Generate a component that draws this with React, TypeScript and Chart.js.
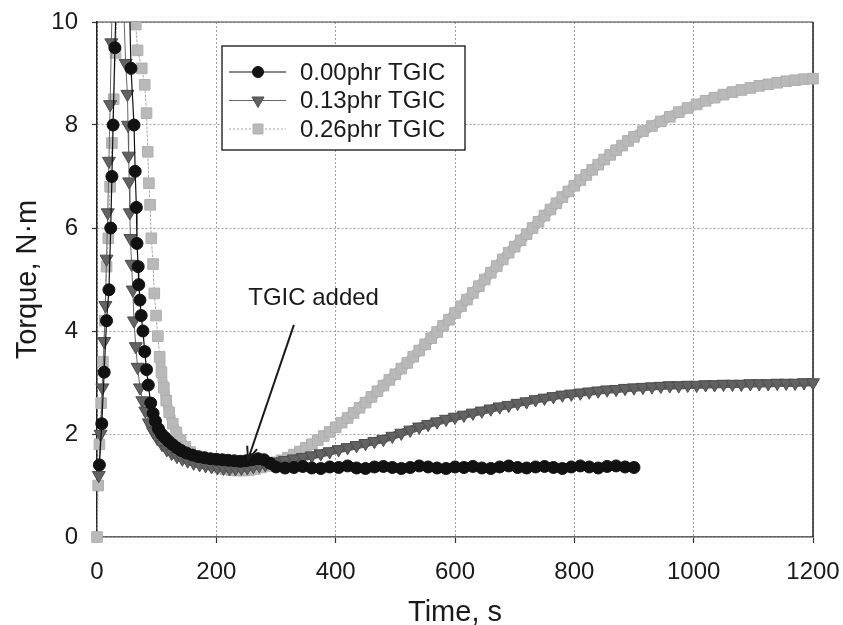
import React, { useEffect, useRef } from 'react';
import { Chart, registerables } from 'chart.js';

Chart.register(...registerables);

const FONT = '"Liberation Sans", Arial, Helvetica, sans-serif';

const seriesNames = ['0.00phr TGIC', '0.13phr TGIC', '0.26phr TGIC'];
const xTitle = 'Time, s';
const yTitle = 'Torque, N·m';
const annotationText = 'TGIC added';
const annotationTextAt = [363, 4.64];
const annotationArrowFrom = [330, 4.12];
const annotationArrowTo = [253, 1.5];

// 0.00phr TGIC
const timeA = [
  4, 8, 12, 16, 20, 23, 25, 27, 30, 34, 42, 50, 57, 62, 64, 66, 67, 69, 70, 72, 74, 77, 80, 83, 86, 90, 94, 98,
  103, 108, 114, 120, 127, 134, 141, 150, 160, 170, 180, 190, 200, 210, 220, 230, 240, 250, 260, 270, 280, 290,
  300, 315, 330, 345, 360, 375, 390, 405, 420, 435, 450, 465, 480, 495, 510, 525, 540, 555, 570, 585, 600,
  615, 630, 645, 660, 675, 690, 705, 720, 735, 750, 765, 780, 795, 810, 825, 840, 855, 870, 885, 900,
];
const torqueA = [
  1.4, 2.2, 3.2, 4.2, 4.8, 6.0, 7.0, 8.0, 9.5, 11.2, 13, 12.5, 9.1, 8.0, 7.1, 6.4, 5.7, 5.25, 4.9, 4.6, 4.3, 4.0,
  3.6, 3.25, 2.95, 2.6, 2.4, 2.25, 2.1, 2.0, 1.93, 1.86, 1.79, 1.73, 1.68, 1.63, 1.59, 1.56, 1.54, 1.52, 1.51,
  1.5, 1.49, 1.48, 1.47, 1.48, 1.5, 1.52, 1.5, 1.43,
  1.36, 1.34, 1.35, 1.37, 1.34, 1.33, 1.36, 1.35, 1.38, 1.34, 1.33, 1.36, 1.37, 1.35, 1.33, 1.35, 1.38, 1.36,
  1.34, 1.33, 1.36, 1.35, 1.37, 1.34, 1.33, 1.36, 1.38, 1.35, 1.34, 1.36, 1.37, 1.35, 1.33, 1.36, 1.38, 1.36,
  1.34, 1.37, 1.38, 1.36, 1.35,
];

// 0.13phr TGIC
const timeB = [
  3, 6, 9, 12, 14, 16, 18, 20, 22, 24, 27, 32, 40, 45, 48, 51, 52, 53, 54, 55, 56, 58, 60, 62, 65, 68, 72, 76, 81,
  87, 94, 101, 109, 117, 125, 134, 143, 152, 162, 172, 182, 192, 202, 212, 222, 232, 242, 252, 262, 272, 282, 292,
  300, 315, 330, 345, 360, 375, 390, 405, 420, 435, 450, 465, 480, 495, 510, 525, 540, 555, 570, 585, 600, 615,
  630, 645, 660, 675, 690, 705, 720, 735, 750, 765, 780, 795, 810, 825, 840, 855, 870, 885, 900, 915, 930, 945,
  960, 975, 990, 1005, 1020, 1035, 1050, 1065, 1080, 1095, 1110, 1125, 1140, 1155, 1170, 1185, 1200,
];
const torqueB = [
  1.2, 2.0, 2.9, 3.8, 4.5, 5.4, 6.3, 7.3, 8.4, 9.6, 11, 12.5, 12, 10.2, 9.2, 8.6, 8.0, 7.4, 6.9, 6.3, 5.8, 5.3,
  4.8, 4.2, 3.7, 3.3, 2.9, 2.65, 2.45, 2.22, 2.05, 1.92, 1.8, 1.7, 1.63, 1.57, 1.52, 1.48, 1.44, 1.41, 1.39,
  1.37, 1.35, 1.34, 1.33, 1.33, 1.34, 1.35, 1.37, 1.39, 1.41, 1.44,
  1.46, 1.49, 1.52, 1.55, 1.58, 1.62, 1.66, 1.7, 1.74, 1.78, 1.82, 1.86, 1.9, 1.96, 2.02, 2.08, 2.14, 2.19,
  2.24, 2.29, 2.33, 2.37, 2.41, 2.45, 2.49, 2.53, 2.56, 2.6, 2.63, 2.67, 2.7, 2.73, 2.76, 2.78, 2.8, 2.82, 2.84,
  2.86, 2.87, 2.89, 2.9, 2.91, 2.92, 2.93, 2.94, 2.94, 2.95, 2.95, 2.96, 2.96, 2.97, 2.97, 2.97, 2.98, 2.98,
  2.98, 2.99, 2.99, 2.99, 3.0, 3.0,
];

// 0.26phr TGIC
const timeC = [
  0, 2, 4, 7, 10, 13, 16, 19, 22, 25, 28, 31, 35, 42, 55, 62, 65, 68, 75, 80, 83, 85, 87, 89, 91, 94, 96, 99, 102,
  105, 108, 112, 116, 121, 127, 133, 140, 148, 156, 165, 175, 185, 195, 205, 215, 225, 235, 245, 255, 265, 275,
  285, 295,
  300, 310, 320, 330, 340, 350, 360, 370, 380, 390, 400, 410, 420, 430, 440, 450, 460, 470, 480, 490, 500, 510,
  520, 530, 540, 550, 560, 570, 580, 590, 600, 610, 620, 630, 640, 650, 660, 670, 680, 690, 700, 710, 720, 730,
  740, 750, 760, 770, 780, 790, 800, 810, 820, 830, 840, 850, 860, 870, 880, 890, 900,
  915, 930, 945, 960, 975, 990, 1005, 1020, 1035, 1050, 1065, 1080, 1095, 1110, 1125, 1140, 1155, 1170, 1185, 1200,
];
const torqueC = [
  0, 1.0, 1.8, 2.6, 3.4, 4.2, 5.25, 5.8, 6.8, 7.65, 8.5, 9.4, 10.6, 12, 12.5, 11, 9.95, 9.45, 9.1, 8.78, 8.23,
  7.48, 6.87, 6.45, 5.8, 5.3, 4.73, 4.3, 3.9, 3.5, 3.2, 2.9, 2.65, 2.42, 2.2, 2.03, 1.88, 1.75, 1.65, 1.56, 1.49,
  1.43, 1.39, 1.35, 1.32, 1.3, 1.29, 1.29, 1.3, 1.32, 1.35, 1.38, 1.42,
  1.45, 1.49, 1.54, 1.6, 1.66, 1.73, 1.8, 1.88, 1.96, 2.04, 2.13, 2.22, 2.31, 2.41, 2.51, 2.61, 2.72, 2.83, 2.94,
  3.05, 3.16, 3.27, 3.38, 3.5, 3.62, 3.74, 3.86, 3.98, 4.1, 4.22, 4.35, 4.48, 4.61, 4.74, 4.87, 5.0, 5.13, 5.26,
  5.39, 5.52, 5.64, 5.76, 5.88, 6.0, 6.12, 6.24, 6.36, 6.48, 6.6, 6.71, 6.82, 6.93, 7.03, 7.13, 7.23, 7.33, 7.42,
  7.51, 7.6, 7.69, 7.77,
  7.88, 7.98, 8.07, 8.16, 8.25, 8.33, 8.4, 8.47, 8.53, 8.59, 8.64, 8.68, 8.72, 8.76, 8.79, 8.82, 8.85, 8.87, 8.89, 8.9,
];

const xMin = 0, xMax = 1200, xStep = 200;
const yMin = 0, yMax = 10, yStep = 2;

const toPoints = (ts: number[], vs: number[]) => ts.map((t, i) => ({ x: t, y: vs[i] }));

type Style = {
  kind: 'circle' | 'triangle' | 'rect';
  fill: string; stroke: string; line: string; dash: number[]; lw: number;
  bandFrom: number; bandWidth: number; bandColor: string;
};
const styles: Style[] = [
  { kind: 'circle', fill: '#111111', stroke: '#111111', line: '#111111', dash: [], lw: 1.2, bandFrom: 95, bandWidth: 9, bandColor: '#151515' },
  { kind: 'triangle', fill: '#626262', stroke: '#4e4e4e', line: '#666666', dash: [], lw: 1, bandFrom: 85, bandWidth: 8, bandColor: '#5e5e5e' },
  { kind: 'rect', fill: '#b9b9b9', stroke: '#b0b0b0', line: '#a8a8a8', dash: [2, 2], lw: 1, bandFrom: 105, bandWidth: 10, bandColor: '#b9b9b9' },
];

function drawMarker(ctx: CanvasRenderingContext2D, s: Style, x: number, y: number) {
  ctx.save();
  ctx.fillStyle = s.fill;
  ctx.strokeStyle = s.stroke;
  ctx.lineWidth = 1;
  ctx.setLineDash([]);
  ctx.beginPath();
  if (s.kind === 'circle') {
    ctx.arc(x, y, 5.5, 0, Math.PI * 2);
  } else if (s.kind === 'triangle') {
    const r = 7;
    ctx.moveTo(x, y + r);
    ctx.lineTo(x - r * 0.866, y - r / 2);
    ctx.lineTo(x + r * 0.866, y - r / 2);
    ctx.closePath();
  } else {
    ctx.rect(x - 5, y - 5, 10, 10);
  }
  ctx.fill();
  ctx.stroke();
  ctx.restore();
}

const frameAndNotePlugin = {
  id: 'frameAndNote',
  beforeDatasetsDraw(chart: any) {
    const { ctx, chartArea: a } = chart;
    ctx.save();
    ctx.setLineDash([]);
    ctx.strokeStyle = '#444';
    ctx.lineWidth = 1.2;
    ctx.beginPath();
    ctx.moveTo(a.left, a.top);
    ctx.lineTo(a.right, a.top);
    ctx.stroke();
    ctx.strokeStyle = '#222';
    ctx.lineWidth = 1.5;
    ctx.beginPath();
    ctx.moveTo(a.right, a.top);
    ctx.lineTo(a.right, a.bottom);
    ctx.stroke();
    ctx.restore();
  },
  afterDatasetsDraw(chart: any) {
    const { ctx } = chart;
    const xs = chart.scales.x, ys = chart.scales.y;
    ctx.save();
    ctx.fillStyle = '#1a1a1a';
    ctx.font = `24px ${FONT}`;
    ctx.textAlign = 'center';
    ctx.textBaseline = 'middle';
    ctx.fillText(annotationText, xs.getPixelForValue(annotationTextAt[0]), ys.getPixelForValue(annotationTextAt[1]));
    const x1 = xs.getPixelForValue(annotationArrowFrom[0]);
    const y1 = ys.getPixelForValue(annotationArrowFrom[1]);
    const x2 = xs.getPixelForValue(annotationArrowTo[0]);
    const y2 = ys.getPixelForValue(annotationArrowTo[1]);
    ctx.strokeStyle = '#1a1a1a';
    ctx.lineWidth = 2;
    ctx.beginPath();
    ctx.moveTo(x1, y1);
    ctx.lineTo(x2, y2);
    ctx.stroke();
    const ang = Math.atan2(y2 - y1, x2 - x1);
    const hl = 14, spread = 0.38;
    ctx.beginPath();
    ctx.moveTo(x2 - hl * Math.cos(ang - spread), y2 - hl * Math.sin(ang - spread));
    ctx.lineTo(x2, y2);
    ctx.lineTo(x2 - hl * Math.cos(ang + spread), y2 - hl * Math.sin(ang + spread));
    ctx.stroke();
    ctx.restore();
  },
  afterDraw(chart: any) {
    const { ctx } = chart;
    const bx = 222, by = 46, bw = 243, bh = 104;
    ctx.save();
    ctx.fillStyle = '#ffffff';
    ctx.fillRect(bx, by, bw, bh);
    ctx.strokeStyle = '#111';
    ctx.lineWidth = 1.3;
    ctx.setLineDash([]);
    ctx.strokeRect(bx, by, bw, bh);
    const rows = [72, 100.5, 129];
    seriesNames.forEach((name, i) => {
      const s = styles[i];
      const ry = rows[i];
      ctx.save();
      ctx.strokeStyle = s.line;
      ctx.lineWidth = s.lw;
      ctx.setLineDash(s.dash);
      ctx.beginPath();
      ctx.moveTo(229, ry);
      ctx.lineTo(286, ry);
      ctx.stroke();
      ctx.restore();
      drawMarker(ctx, s, 258, ry);
      ctx.fillStyle = '#1a1a1a';
      ctx.font = `24px ${FONT}`;
      ctx.textAlign = 'left';
      ctx.textBaseline = 'middle';
      ctx.fillText(name, 300, ry + 1);
    });
    ctx.restore();
  },
};

export default function App() {
  const ref = useRef<HTMLCanvasElement | null>(null);

  useEffect(() => {
    if (!ref.current) return;
    const series = [toPoints(timeA, torqueA), toPoints(timeB, torqueB), toPoints(timeC, torqueC)];
    const pointStyles = ['circle', 'triangle', 'rect'];
    const radii = [6, 7.5, 7.5];
    const datasets = series.map((data, i) => {
      const s = styles[i];
      return {
        label: seriesNames[i],
        data,
        showLine: true,
        borderColor: s.line,
        borderWidth: s.lw,
        borderDash: s.dash,
        segment: {
          borderWidth: (c: any) => (c.p0.parsed.x >= s.bandFrom ? s.bandWidth : s.lw),
          borderDash: (c: any) => (c.p0.parsed.x >= s.bandFrom ? [] : s.dash),
          borderColor: (c: any) => (c.p0.parsed.x >= s.bandFrom ? s.bandColor : s.line),
        },
        borderJoinStyle: 'round',
        borderCapStyle: 'round',
        pointStyle: pointStyles[i],
        pointRotation: i === 1 ? 180 : 0,
        pointRadius: radii[i],
        pointBackgroundColor: s.fill,
        pointBorderColor: s.stroke,
        pointBorderWidth: 1,
        pointHoverRadius: radii[i],
        tension: 0,
        clip: { left: 10, right: 10, top: 0, bottom: 10 },
      };
    });

    const chart = new Chart(ref.current, {
      type: 'scatter',
      data: { datasets },
      plugins: [frameAndNotePlugin],
      options: {
        responsive: false,
        animation: false,
        devicePixelRatio: 1,
        layout: { padding: { top: 22, right: 30, left: 0, bottom: 0 } },
        plugins: { legend: { display: false }, tooltip: { enabled: false } },
        scales: {
          x: {
            type: 'linear',
            min: xMin,
            max: xMax,
            ticks: {
              stepSize: xStep, color: '#1a1a1a', font: { family: FONT, size: 24 }, padding: 15, maxRotation: 0,
              callback: (v: any) => String(v),
            },
            grid: { color: '#a0a0a0', lineWidth: 1, tickLength: 6, tickColor: '#333', tickBorderDash: [], tickWidth: 1.2 },
            border: { display: true, color: '#666', width: 1.5, dash: [2, 2] },
            title: { display: true, text: xTitle, color: '#1a1a1a', font: { family: FONT, size: 29, lineHeight: 1 }, padding: { top: 0, bottom: -2 } },
            afterFit: (sc: any) => { sc.height = 88; sc.paddingLeft = 0; sc.paddingRight = 0; },
          },
          y: {
            type: 'linear',
            min: yMin,
            max: yMax,
            ticks: { stepSize: yStep, color: '#1a1a1a', font: { family: FONT, size: 24 }, padding: 14, callback: (v: any) => String(v) },
            grid: { color: '#a0a0a0', lineWidth: 1, tickLength: 5, tickColor: '#333', tickBorderDash: [], tickWidth: 1.2 },
            border: { display: true, color: '#222', width: 1.5, dash: [2, 2] },
            title: { display: true, text: yTitle, color: '#1a1a1a', font: { family: FONT, size: 29, lineHeight: 1 }, padding: { top: 13, bottom: 0 } },
            afterFit: (sc: any) => { sc.width = 97; sc.paddingTop = 0; sc.paddingBottom = 0; },
          },
        },
      } as any,
    });
    return () => chart.destroy();
  }, []);

  return (
    <div style={{ position: 'fixed', left: 0, top: 0, width: 843, height: 625, background: '#fff' }}>
      <canvas ref={ref} width={843} height={625} style={{ display: 'block', width: 843, height: 625 }} />
    </div>
  );
}
